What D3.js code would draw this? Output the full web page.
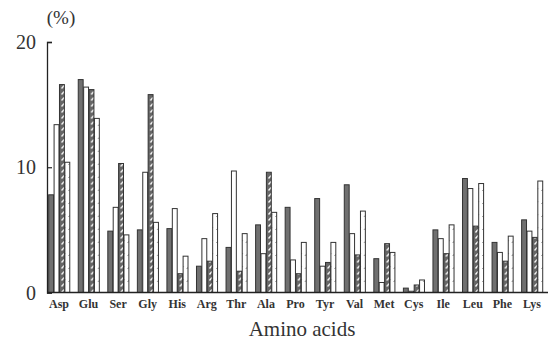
<!DOCTYPE html>
<html>
<head>
<meta charset="utf-8">
<script src="https://cdn.jsdelivr.net/npm/d3@7"></script>
<style>
  body { margin: 0; background: #fff; }
</style>
</head>
<body>
<div id="chart"></div>
<script>
'use strict';

//chart data (%)
var aminoAcids = ['Asp','Glu','Ser','Gly','His','Arg','Thr','Ala','Pro','Tyr','Val','Met','Cys','Ile','Leu','Phe','Lys'];
var seriesNames = ['s1','s2','s3','s4'];
var series1 = [7.8, 17.0, 4.9, 5.0, 5.1, 2.1, 3.6, 5.4, 6.8, 7.5, 8.6, 2.7, 0.35, 5.0, 9.1, 4.0, 5.8];
var series2 = [13.4, 16.4, 6.8, 9.6, 6.7, 4.3, 9.7, 3.1, 2.6, 2.1, 4.7, 0.8, 0.1, 4.3, 8.3, 3.2, 4.9];
var series3 = [16.6, 16.2, 10.3, 15.8, 1.5, 2.5, 1.7, 9.6, 1.5, 2.4, 3.0, 3.9, 0.6, 3.1, 5.3, 2.5, 4.4];
var series4 = [10.4, 13.9, 4.6, 5.6, 2.9, 6.3, 4.7, 6.4, 4.0, 4.0, 6.5, 3.2, 1.0, 5.4, 8.7, 4.5, 8.9];
var yTicks = [0, 10, 20];

//configuration variables
var config = {};
config.width  = 548;
config.height = 341;
config.left   = 47;
config.top    = 42;
config.bottom = 292.5;
config.font   = '"Liberation Serif", "DejaVu Serif", serif';

var svg = d3.select('#chart')
    .append('svg')
    .attr('width', config.width)
    .attr('height', config.height);

//fill patterns for the bars
var defs = svg.append('defs');

var hatch = defs.append('pattern')
    .attr('id', 'hatch')
    .attr('patternUnits', 'userSpaceOnUse')
    .attr('width', 6)
    .attr('height', 6);
hatch.append('rect').attr('width', 6).attr('height', 6).attr('fill', '#666');
hatch.append('line')
    .attr('x1', 1.5).attr('y1', 4.5).attr('x2', 4).attr('y2', 1.5)
    .attr('stroke', '#fff').attr('stroke-width', 1.3);

var sparse = defs.append('pattern')
    .attr('id', 'sparse')
    .attr('patternUnits', 'userSpaceOnUse')
    .attr('width', 6)
    .attr('height', 13);
sparse.append('rect').attr('width', 6).attr('height', 13).attr('fill', '#fff');
sparse.append('line')
    .attr('x1', 2.5).attr('y1', 9).attr('x2', 5).attr('y2', 6)
    .attr('stroke', '#444').attr('stroke-width', 0.8);

var fills = {s1: '#707070', s2: '#fff', s3: 'url(#hatch)', s4: 'url(#sparse)'};

//scales
var x0 = d3.scaleBand()
    .domain(aminoAcids)
    .range([44.2, 546.7])
    .paddingInner(0.27)
    .paddingOuter(0.135);

var x1 = d3.scaleBand()
    .domain(seriesNames)
    .range([0, x0.bandwidth()])
    .padding(0);

var y = d3.scaleLinear()
    .domain([0, 20])
    .range([config.bottom, config.top]);

var rows = aminoAcids.map(function(name, i){
    return {name: name, values: [
        {key: 's1', value: series1[i]},
        {key: 's2', value: series2[i]},
        {key: 's3', value: series3[i]},
        {key: 's4', value: series4[i]}
    ]};
});

//bars
svg.append('g')
    .attr('class', 'bars')
    .selectAll('g')
    .data(rows)
    .enter()
        .append('g')
        .attr('transform', function(d){ return 'translate(' + x0(d.name) + ',0)'; })
        .selectAll('rect')
        .data(function(d){ return d.values; })
        .enter()
            .append('rect')
            .attr('x', function(d){ return x1(d.key) + 0.5; })
            .attr('y', function(d){ return y(d.value); })
            .attr('width', x1.bandwidth() - 0.5)
            .attr('height', function(d){ return y(0) - y(d.value); })
            .attr('fill', function(d){ return fills[d.key]; })
            .attr('stroke', '#333')
            .attr('stroke-width', 1);

//y axis, ticks point inward
var yAxis = d3.axisRight(y)
    .tickValues(yTicks)
    .tickSize(5)
    .tickFormat('');

var yg = svg.append('g')
    .attr('transform', 'translate(' + config.left + ',0)')
    .call(yAxis);
yg.select('.domain').attr('stroke', '#222').attr('stroke-width', 1.3);
yg.selectAll('.tick line').attr('stroke', '#222').attr('stroke-width', 1.2);

svg.append('g')
    .selectAll('text')
    .data(yTicks)
    .enter()
        .append('text')
        .attr('x', 36)
        .attr('y', function(d){ return y(d); })
        .attr('dy', '0.36em')
        .attr('text-anchor', 'end')
        .style('font-family', config.font)
        .style('font-size', '20px')
        .attr('fill', '#333')
        .text(function(d){ return d; });

//x axis
var xAxis = d3.axisBottom(x0)
    .tickSize(0)
    .tickPadding(7);

var xg = svg.append('g')
    .attr('transform', 'translate(0,' + config.bottom + ')')
    .call(xAxis);
xg.select('.domain')
    .attr('d', 'M' + config.left + ',0H' + config.width)
    .attr('stroke', '#222')
    .attr('stroke-width', 1.3);
xg.selectAll('.tick text')
    .style('font-family', config.font)
    .style('font-size', '12px')
    .style('font-weight', 'bold')
    .attr('fill', '#333');

//titles
svg.append('text')
    .attr('x', 61)
    .attr('y', 24)
    .attr('text-anchor', 'middle')
    .style('font-family', config.font)
    .style('font-size', '19px')
    .attr('fill', '#333')
    .text('(%)');

svg.append('text')
    .attr('x', 302)
    .attr('y', 336)
    .attr('text-anchor', 'middle')
    .style('font-family', config.font)
    .style('font-size', '21px')
    .attr('fill', '#333')
    .text('Amino acids');
</script>
</body>
</html>
